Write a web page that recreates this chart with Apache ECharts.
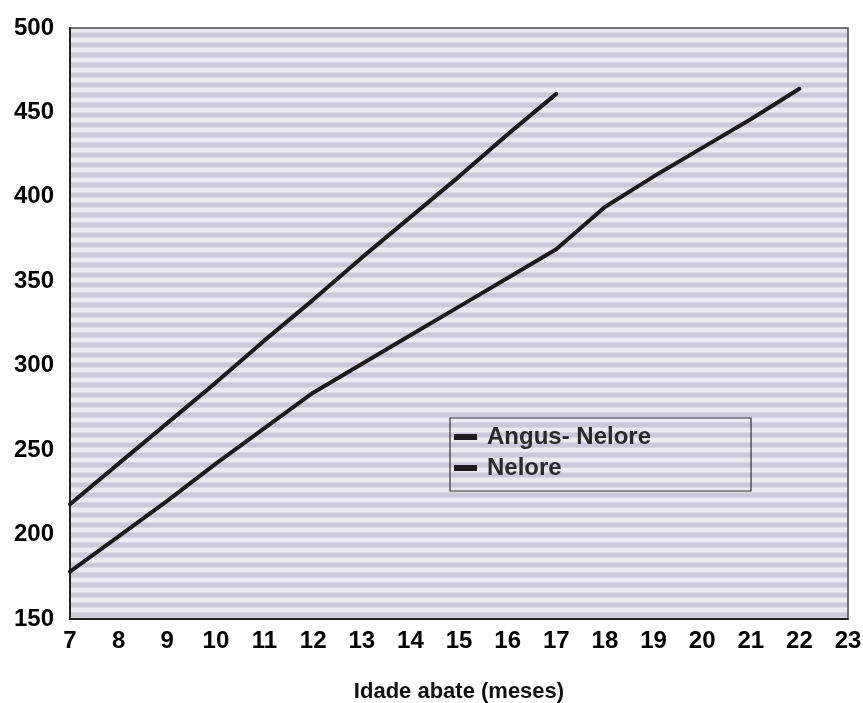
<!DOCTYPE html>
<html>
<head>
<meta charset="utf-8">
<script src="https://cdn.jsdelivr.net/npm/echarts@6/dist/echarts.min.js"></script>
<style>
  html, body { margin: 0; padding: 0; background: #fff; }
  #chart { width: 863px; height: 703px; }
</style>
</head>
<body>
<div id="chart"></div>
<script>
// idade de abate (meses)
const months = [7, 8, 9, 10, 11, 12, 13, 14, 15, 16, 17, 18, 19, 20, 21, 22];
const angusNelore = [218, 242, 266, 290, 315, 339, 364, 388, 412, 437, 461];
const nelore = [178, 199, 220, 242, 263, 284, 301, 318, 335, 352, 369, 394, 412, 429, 446, 464];
const yTicks = [150, 200, 250, 300, 350, 400, 450, 500];

const toPairs = (vals) => vals.map((v, i) => [months[i], v]);

// striped background, like the scanned screen tone
function makeStripes() {
  const c = document.createElement('canvas');
  c.width = 16;
  c.height = 10;
  const ctx = c.getContext('2d');
  ctx.fillStyle = '#ebeaf2';
  ctx.fillRect(0, 0, 16, 10);
  ctx.fillStyle = '#cac8da';
  ctx.fillRect(0, 3, 16, 4);
  ctx.fillStyle = '#dad8e5';
  ctx.fillRect(0, 2, 16, 1);
  ctx.fillRect(0, 7, 16, 1);
  return c;
}

const chart = echarts.init(document.getElementById('chart'));
const font = '"Liberation Sans", Arial, sans-serif';

chart.setOption({
  animation: false,
  backgroundColor: '#ffffff',
  grid: {
    left: 70,
    right: 15,
    top: 28,
    bottom: 84,
    outerBoundsMode: 'none',
    containLabel: false,
    show: true,
    backgroundColor: { image: makeStripes(), repeat: 'repeat' },
    borderColor: '#4a4a4a',
    borderWidth: 1.5
  },
  legend: {
    orient: 'vertical',
    left: 450,
    top: 418,
    padding: [7, 100, 11, 4],
    borderColor: '#333',
    borderWidth: 1.2,
    itemGap: 7,
    itemWidth: 23,
    itemHeight: 6,
    icon: 'rect',
    textStyle: { fontFamily: font, fontSize: 24, fontWeight: 'bold', color: '#2a2a2a', padding: [0, 0, 0, 5] },
    data: ['Angus- Nelore', 'Nelore']
  },
  xAxis: {
    type: 'value',
    min: 7,
    max: 23,
    interval: 1,
    name: 'Idade abate (meses)',
    nameLocation: 'middle',
    nameGap: 62,
    nameTextStyle: { fontFamily: font, fontSize: 22, fontWeight: 'bold', color: '#111' },
    axisLine: { show: true, lineStyle: { color: '#222', width: 2 } },
    axisTick: { show: false },
    splitLine: { show: false },
    axisLabel: { fontFamily: font, fontSize: 24, fontWeight: 'bold', color: '#000', margin: 10 }
  },
  yAxis: {
    type: 'value',
    min: yTicks[0],
    max: yTicks[yTicks.length - 1],
    interval: 50,
    axisLine: { show: true, lineStyle: { color: '#222', width: 2 } },
    axisTick: { show: false },
    splitLine: { show: false },
    axisLabel: { fontFamily: font, fontSize: 24, fontWeight: 'bold', color: '#000', margin: 16 }
  },
  series: [
    {
      name: 'Angus- Nelore',
      type: 'line',
      data: toPairs(angusNelore),
      showSymbol: false,
      itemStyle: { color: '#1c1a1c' },
      lineStyle: { color: '#1c1a1c', width: 4, cap: 'round' }
    },
    {
      name: 'Nelore',
      type: 'line',
      data: toPairs(nelore),
      showSymbol: false,
      itemStyle: { color: '#1c1a1c' },
      lineStyle: { color: '#1c1a1c', width: 4, cap: 'round' }
    }
  ]
});
</script>
</body>
</html>
